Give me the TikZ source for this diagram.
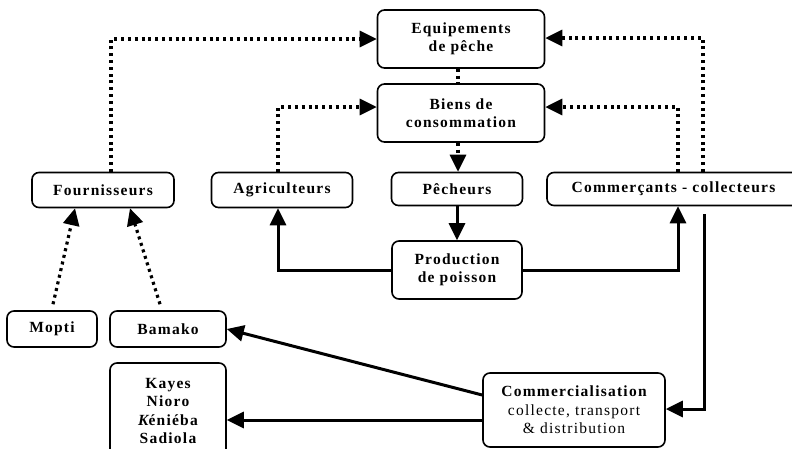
\documentclass[tikz,border=0pt]{standalone}
\usepackage{fontspec}
\setmainfont{Liberation Serif}[LetterSpace=8]
\usetikzlibrary{arrows.meta}

\begin{document}
\begin{tikzpicture}[x=1pt,y=-1pt,
 box/.style={draw,rounded corners=7pt,line width=1.6pt,align=center,inner sep=0pt,font=\fontsize{15.5}{18.5}\selectfont\bfseries},
 flow/.style={line width=3pt,-{Triangle[length=17pt,width=16pt]}},
 dots/.style={flow,line width=3.2pt,dash pattern=on 3pt off 3.8pt},
 link/.style={line width=3.2pt,dash pattern=on 3pt off 3.8pt}]
 \useasboundingbox (0,0) rectangle (792,448);
 \node[box,minimum width=167,minimum height=58] (equip) at (461,39) {Equipements\\de pêche};
 \node[box,minimum width=167,minimum height=58] (biens) at (461,113) {Biens de\\consommation};
 \node[box,minimum width=142,minimum height=35] (fourn) at (103,190) {Fournisseurs};
 \node[box,minimum width=141,minimum height=35] (agri) at (282,190) {Agriculteurs};
 \node[box,minimum width=131,minimum height=33] (pech) at (457,189) {Pêcheurs};
 \node[box,minimum width=253,minimum height=33] (comm) at (673.5,189) {Commerçants - collecteurs};
 \node[box,minimum width=130,minimum height=58] (prod) at (457,270) {Production\\de poisson};
 \node[box,minimum width=182,minimum height=74] (vente) at (574,410)
  {Commercialisation\\\mdseries collecte, transport\\\mdseries \& distribution};
 \node[box,minimum width=90,minimum height=36] (mopti) at (52,329) {Mopti};
 \node[box,minimum width=116,minimum height=36] (bamako) at (168,329) {Bamako};
 \node[box,minimum width=116,minimum height=96] (kayes) at (168,411)
  {Kayes\\Nioro\\{\itshape K}éniéba\\Sadiola};
 % flux d'approvisionnement
 \draw[dots] ([xshift=8pt]fourn.north) |- (equip.west);
 \draw[dots] ([xshift=-4pt]agri.north) |- ([yshift=6pt]biens.west);
 \draw[dots] ([xshift=4.5pt]comm.north) |- ([yshift=6pt]biens.east);
 \draw[dots] ([xshift=29.5pt]comm.north) |- ([yshift=1pt]equip.east);
 \draw[link] ([xshift=-3pt]equip.south) -- ([xshift=-3pt]biens.north);
 \draw[dots] ([xshift=-3pt]biens.south) -- ([xshift=-3pt]biens.south |- pech.north);
 \draw[dots] ([xshift=1pt,yshift=6pt]mopti.north) -- ([xshift=-28pt]fourn.south);
 \draw[dots] ([xshift=-8pt,yshift=6pt]bamako.north) -- ([xshift=27pt]fourn.south);
 % flux du poisson
 \draw[flow] (pech.south) -- (prod.north);
 \draw[flow] (prod.west) -| ([xshift=-4pt]agri.south);
 \draw[flow] (prod.east) -| ([xshift=4.5pt]comm.south);
 \draw[flow] ([xshift=31pt,yshift=-8pt]comm.south) |- ([yshift=1pt]vente.east);
 \draw[flow] ([yshift=15pt]vente.west) -- (bamako.east);
 \draw[flow] ([yshift=-10pt]vente.west) -- ([yshift=-9pt]kayes.east);
\end{tikzpicture}
\end{document}
